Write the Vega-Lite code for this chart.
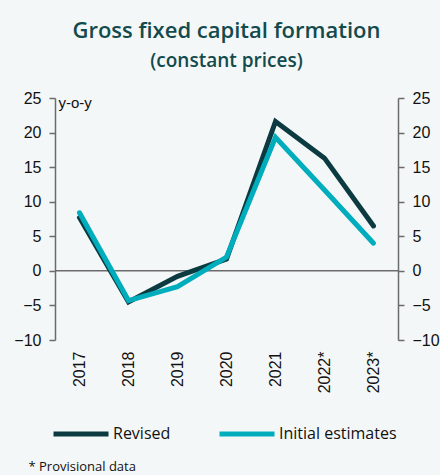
{
  "$schema": "https://vega.github.io/schema/vega-lite/v6.json",
  "autosize": {"type": "none"},
  "width": 343,
  "height": 242,
  "padding": {"left": 55, "top": 98, "right": 42, "bottom": 135},
  "background": "#f4f7f7",
  "config": {
    "view": {"stroke": null},
    "font": "Liberation Sans",
    "axis": {"labelFont": "Liberation Sans", "labelColor": "#111111", "labelFontSize": 16, "domainColor": "#6b6b6b", "tickColor": "#6b6b6b", "domainWidth": 1.5, "tickWidth": 1.5, "grid": false}
  },
  "title": {
    "text": "Gross fixed capital formation",
    "subtitle": "(constant prices)",
    "anchor": "middle",
    "font": "Open Sans",
    "fontSize": 22,
    "fontWeight": 600,
    "color": "#124a4d",
    "subtitleFont": "Open Sans",
    "subtitleFontSize": 19,
    "subtitleFontWeight": 600,
    "subtitleColor": "#124a4d",
    "subtitlePadding": 9,
    "offset": 18
  },
  "data": {
    "values": [
      {"year": "2017", "series": "Revised", "value": 7.7},
      {"year": "2018", "series": "Revised", "value": -4.5},
      {"year": "2019", "series": "Revised", "value": -0.8},
      {"year": "2020", "series": "Revised", "value": 1.7},
      {"year": "2021", "series": "Revised", "value": 21.6},
      {"year": "2022*", "series": "Revised", "value": 16.3},
      {"year": "2023*", "series": "Revised", "value": 6.5},
      {"year": "2017", "series": "Initial estimates", "value": 8.4},
      {"year": "2018", "series": "Initial estimates", "value": -4.3},
      {"year": "2019", "series": "Initial estimates", "value": -2.3},
      {"year": "2020", "series": "Initial estimates", "value": 2.0},
      {"year": "2021", "series": "Initial estimates", "value": 19.3},
      {"year": "2022*", "series": "Initial estimates", "value": 11.7},
      {"year": "2023*", "series": "Initial estimates", "value": 4.0}
    ]
  },
  "layer": [
    {
      "data": {"values": [{"zero": 0}]},
      "mark": {"type": "rule", "color": "#6b6b6b", "strokeWidth": 1.5},
      "encoding": {
        "y": {"field": "zero", "type": "quantitative", "scale": {"domain": [-10, 25]}, "axis": null}
      }
    },
    {
      "mark": {"type": "line", "strokeWidth": 5, "strokeCap": "round", "strokeJoin": "miter"},
      "encoding": {
        "x": {
          "field": "year", "type": "ordinal", "sort": null,
          "scale": {"type": "point", "padding": 0.5},
          "axis": {
            "labelAngle": -90, "domain": false, "ticks": false, "labelPadding": 11,
            "title": "* Provisional data", "titleFont": "Open Sans", "titleFontSize": 13, "titleFontWeight": "normal",
            "titleColor": "#111111", "titleAnchor": "start", "titleAlign": "left", "titleBaseline": "middle",
            "titleX": -27, "titleY": 126
          }
        },
        "y": {
          "field": "value", "type": "quantitative",
          "scale": {"domain": [-10, 25], "nice": false, "zero": false},
          "axis": {
            "values": [-10, -5, 0, 5, 10, 15, 20, 25], "tickSize": 6, "labelPadding": 8,
            "title": "y-o-y", "titleAngle": 0, "titleAlign": "left", "titleBaseline": "top",
            "titleX": 3, "titleY": -3, "titleFont": "Liberation Sans", "titleFontSize": 15,
            "titleFontWeight": "normal", "titleColor": "#111111"
          }
        },
        "color": {
          "field": "series", "type": "nominal",
          "scale": {"domain": ["Revised", "Initial estimates"], "range": ["#0b3b41", "#00adbd"]},
          "legend": {
            "title": null, "orient": "none", "direction": "horizontal", "columns": 2,
            "legendX": -4, "legendY": 306, "symbolType": "stroke", "symbolSize": 3025,
            "symbolStrokeWidth": 5, "labelFont": "Open Sans", "labelFontSize": 16, "labelColor": "#111111",
            "labelOffset": 2, "columnPadding": 38
          }
        }
      }
    },
    {
      "mark": {"type": "line", "opacity": 0},
      "encoding": {
        "x": {"field": "year", "type": "ordinal", "sort": null, "scale": {"type": "point", "padding": 0.5}},
        "y": {
          "field": "value", "type": "quantitative",
          "scale": {"domain": [-10, 25], "nice": false, "zero": false},
          "axis": {"orient": "right", "values": [-10, -5, 0, 5, 10, 15, 20, 25], "tickSize": 6, "labelPadding": 8, "title": null}
        },
        "detail": {"field": "series"}
      }
    }
  ],
  "resolve": {"scale": {"y": "independent"}}
}
